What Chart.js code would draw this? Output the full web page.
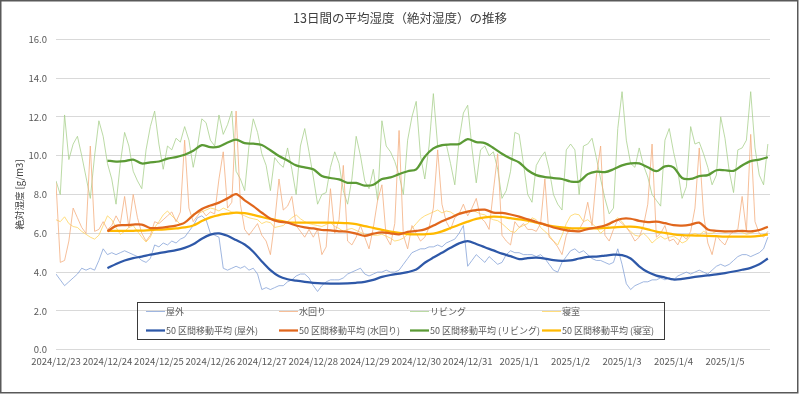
<!DOCTYPE html>
<html lang="ja">
<head>
<meta charset="utf-8">
<title>13日間の平均湿度（絶対湿度）の推移</title>
<script src="https://cdn.jsdelivr.net/npm/chart.js@4.4.1/dist/chart.umd.min.js"></script>
<style>
  html, body { margin: 0; padding: 0; background: #fff; }
  #wrap { width: 800px; height: 394px; }
</style>
</head>
<body>
<div id="wrap"><canvas id="humidity-chart" width="800" height="394"></canvas></div>
<script>
// 日付ラベル（0時ごと）
const dateLabels = ['2024/12/23', '2024/12/24', '2024/12/25', '2024/12/26', '2024/12/27', '2024/12/28', '2024/12/29',
  '2024/12/30', '2024/12/31', '2025/1/1', '2025/1/2', '2025/1/3', '2025/1/4', '2025/1/5'];

const chartTitle = '13日間の平均湿度（絶対湿度）の推移';
const seriesNames = ['屋外', '水回り', 'リビング', '寝室'];

// 生データ（2時間ごと, 0h から）
const outdoor = [3.9,3.6,3.3,3.5,3.7,3.9,4.2,4.1,4.2,4.1, 4.6,5.2,4.9,5.0,4.9,5.0,5.1,5.0,4.9,4.8,
  4.6,4.5,4.7,5.4,5.3,5.5,5.4,5.6,5.5,5.7, 5.8,6.1,6.4,6.8,6.9,6.7,6.0,5.9,5.8,4.2,
  4.1,4.2,4.3,4.2,4.3,4.1,4.2,3.9,3.1,3.2, 3.1,3.2,3.3,3.3,3.5,3.6,3.8,3.9,3.9,3.7,
  3.3,3.0,3.3,3.5,3.6,3.6,3.6,3.7,3.9,4.0, 4.1,4.2,3.9,3.8,3.9,4.0,4.0,4.1,4.0,4.0,
  4.1,4.4,4.7,5.0,5.1,5.2,5.2,5.3,5.3,5.4, 5.3,5.5,5.6,5.7,6.0,6.4,4.3,4.6,4.9,4.7,
  4.5,4.8,4.6,4.4,4.5,4.9,5.1,5.0,5.0,4.9, 4.9,4.9,4.8,4.9,4.7,4.4,4.1,4.0,4.5,4.8,
  5.1,5.2,5.0,5.1,4.9,4.7,4.6,4.6,4.5,4.4, 4.5,5.2,4.4,3.4,3.1,3.3,3.4,3.5,3.5,3.6,
  3.6,3.7,3.6,3.7,3.6,3.8,3.9,4.0,3.9,4.0, 4.1,4.0,3.9,4.1,4.3,4.4,4.3,4.4,4.6,4.8,
  4.9,4.9,4.8,4.9,5.0,5.2,5.8];
const water = [8.6,4.5,4.6,5.6,7.3,6.8,6.3,6.0,10.5,6.1, 6.2,6.6,6.2,6.4,6.9,6.5,7.9,6.3,8.0,6.8,
  6.0,5.6,5.9,6.6,6.5,6.7,6.9,7.1,6.6,7.1, 10.8,7.3,6.6,6.9,7.2,6.9,7.1,7.0,8.8,10.2,
  7.3,7.6,12.3,7.5,6.2,5.9,6.2,6.5,5.9,5.6, 4.9,6.6,8.8,7.2,7.4,7.9,6.4,6.1,5.8,6.2,
  5.8,6.2,4.9,5.3,8.3,6.0,6.7,9.5,5.6,5.4, 5.8,6.4,5.8,5.2,6.3,7.7,8.5,5.8,5.4,6.5,
  11.3,5.9,5.2,6.4,6.0,5.6,5.8,6.3,7.3,10.3, 7.5,6.6,6.2,6.8,7.0,7.5,6.9,7.3,7.8,6.8,
  6.6,6.2,8.2,10.1,5.9,5.6,5.4,6.6,6.3,6.5, 6.2,6.2,6.1,6.5,8.8,5.8,5.6,5.3,4.9,5.9,
  6.3,6.1,6.2,6.6,7.6,6.4,8.9,10.5,5.9,5.6, 6.2,6.7,6.5,6.3,6.0,5.6,5.8,6.4,7.5,10.6,
  5.8,6.0,6.4,5.6,5.7,5.4,5.9,5.7,6.1,7.3, 10.4,7.0,5.5,4.9,5.9,5.6,5.4,5.9,6.1,6.2,
  7.9,6.1,11.1,6.6,6.0,5.8,6.1];
const living = [8.7,8.0,12.1,9.8,10.6,11.0,10.0,8.9,7.8,10.0, 11.8,11.0,9.6,8.8,7.5,9.6,11.2,10.5,9.2,8.7,
  8.3,10.3,11.5,12.3,10.6,9.3,10.5,10.3,10.9,10.7, 11.5,10.8,9.4,10.5,11.9,11.7,10.8,10.5,12.1,11.1,
  11.6,12.3,9.2,8.8,8.2,10.5,11.9,11.2,10.1,9.5, 8.2,9.9,9.6,9.4,10.4,9.3,8.0,10.5,11.4,10.2,
  8.9,7.5,8.0,8.1,9.4,10.2,9.6,8.2,7.5,8.8, 11.0,10.0,8.7,8.3,9.3,7.7,11.8,10.5,10.2,9.7,
  9.0,8.0,10.8,12.0,12.8,10.0,8.8,10.5,13.2,10.5, 10.5,10.6,9.6,8.5,10.8,12.2,12.6,10.4,8.6,10.3,
  10.5,10.0,10.2,9.3,7.8,8.2,9.2,11.2,11.1,9.6, 8.0,7.6,9.5,9.9,10.2,9.3,8.0,7.5,7.2,10.3,
  10.6,10.3,8.0,10.5,10.6,10.9,9.9,8.8,7.8,7.0, 7.3,11.4,13.3,10.8,9.6,9.4,10.4,9.5,8.9,8.0,
  7.7,7.4,10.8,11.4,10.2,9.2,7.8,8.4,11.5,10.6, 10.7,10.1,9.4,8.5,9.0,12.0,10.9,9.2,8.1,10.3,
  10.4,10.8,13.3,10.4,9.0,8.5,10.6];
const bedroom = [6.7,6.6,6.85,6.5,6.35,6.3,6.1,5.95,5.8,5.7, 5.9,6.4,6.9,6.7,6.3,5.95,6.1,6.3,6.4,6.1,
  5.8,5.55,5.8,6.3,6.6,6.95,7.15,6.9,6.7,6.45, 6.5,6.8,7.0,7.05,7.1,7.2,7.3,7.25,7.15,7.3,
  7.2,7.1,7.05,7.0,6.9,6.8,6.75,6.7,6.5,6.6, 6.55,6.3,6.35,6.4,6.6,6.8,6.95,6.75,6.6,6.5,
  6.45,6.4,6.35,6.45,6.55,6.35,6.25,6.1,6.2,6.25, 6.15,6.05,5.95,5.9,5.9,5.9,5.95,5.85,5.75,5.6,
  5.65,5.75,5.95,6.25,6.5,6.75,6.9,7.0,7.1,7.2, 7.05,7.15,7.1,6.95,7.05,7.1,7.15,7.2,7.1,7.0,
  6.95,6.8,6.7,6.65,6.5,6.3,6.1,6.05,6.3,6.4, 6.5,6.8,6.7,6.3,6.1,5.9,5.6,5.4,5.9,6.5,
  6.9,7.0,6.95,6.6,6.7,6.5,6.3,6.0,6.2,6.4, 6.6,6.8,6.6,6.3,6.1,5.9,5.85,6.0,5.8,5.5,
  5.7,5.85,5.7,5.8,5.85,5.7,5.5,5.6,5.9,6.0, 5.9,6.1,6.0,6.0,6.1,6.1,6.05,6.1,6.1,6.1,
  6.05,5.95,6.0,6.1,6.15,6.2,6.3];

// 50 区間移動平均（4時間ごと, 24h から）
const outdoorMA = [4.2,4.42,4.6,4.72,4.8,4.9,4.98,5.06,5.13,5.25, 5.43,5.72,5.93,6.0,5.87,5.65,5.42,5.05,4.55,4.1,
  3.78,3.63,3.56,3.5,3.45,3.42,3.41,3.41,3.42,3.45, 3.5,3.6,3.75,3.85,3.92,4.0,4.13,4.48,4.75,5.0,
  5.25,5.48,5.6,5.45,5.28,5.12,4.95,4.82,4.67,4.72, 4.74,4.7,4.62,4.58,4.6,4.7,4.78,4.8,4.85,4.9,
  4.88,4.7,4.3,4.0,3.82,3.72,3.62,3.65,3.72,3.78, 3.83,3.88,3.95,4.03,4.12,4.22,4.4,4.7];
const waterMA = [6.1,6.38,6.42,6.45,6.45,6.27,6.28,6.33,6.4,6.55, 6.93,7.25,7.43,7.58,7.8,8.02,7.7,7.4,7.06,6.75,
  6.6,6.55,6.4,6.3,6.25,6.17,6.15,6.1,6.08,5.98, 5.87,5.98,6.05,6.0,5.95,6.07,6.12,6.2,6.4,6.62,
  6.8,7.0,7.12,7.2,7.22,7.07,7.05,6.97,6.86,6.72, 6.58,6.45,6.3,6.2,6.12,6.1,6.22,6.3,6.4,6.6,
  6.75,6.75,6.64,6.58,6.6,6.52,6.42,6.4,6.45,6.55, 6.2,6.13,6.1,6.1,6.12,6.1,6.17,6.34];
const livingMA = [9.75,9.7,9.72,9.8,9.6,9.66,9.7,9.85,9.93,10.05, 10.25,10.54,10.44,10.47,10.68,10.83,10.65,10.62,10.55,10.28,
  9.98,9.75,9.5,9.4,9.3,8.95,8.85,8.78,8.6,8.6, 8.46,8.5,8.8,8.88,9.05,9.2,9.3,9.95,10.38,10.55,
  10.58,10.6,10.85,10.7,10.65,10.4,10.1,9.85,9.65,9.25, 9.0,8.9,8.85,8.8,8.67,8.67,9.05,9.18,9.15,9.3,
  9.5,9.6,9.6,9.4,9.2,9.45,9.4,8.85,8.8,8.95, 9.0,9.25,9.25,9.22,9.5,9.72,9.8,9.92];
const bedroomMA = [6.12,6.12,6.12,6.13,6.14,6.17,6.19,6.21,6.25,6.3, 6.4,6.63,6.82,6.94,7.01,7.07,7.04,6.95,6.84,6.74,
  6.66,6.57,6.55,6.55,6.55,6.55,6.55,6.54,6.52,6.47, 6.37,6.28,6.18,6.09,6.02,5.96,5.95,5.95,5.98,6.1,
  6.27,6.44,6.6,6.74,6.82,6.86,6.84,6.78,6.72,6.65, 6.55,6.45,6.36,6.3,6.26,6.26,6.26,6.26,6.28,6.3,
  6.33,6.34,6.3,6.2,6.09,6.02,5.95,5.91,5.89,5.88, 5.87,5.85,5.83,5.83,5.83,5.83,5.87,5.95];

const FONT = '"Noto Sans CJK JP", "Noto Sans", sans-serif';
const rawColors = ['#86A3D8', '#F4AE80', '#A9D18E', '#FFD45E'];
const maColors = ['#2E58A8', '#E0661C', '#5B9A35', '#FFB900'];

// 時間 → 点
function toPoints(values, startHour, stepHour) {
    return values.map((v, i) => ({ x: startHour + i * stepHour, y: v }));
}

const rawSeries = [outdoor, water, living, bedroom];
const maSeries = [outdoorMA, waterMA, livingMA, bedroomMA];

const datasets = [];
rawSeries.forEach((vals, i) => {
    datasets.push({
        label: seriesNames[i],
        data: toPoints(vals, 0, 2),
        borderColor: rawColors[i],
        borderWidth: 0.8,
        pointRadius: 0,
        tension: 0,
        order: 2
    });
});
maSeries.forEach((vals, i) => {
    datasets.push({
        label: '50 区間移動平均 (' + seriesNames[i] + ')',
        data: toPoints(vals, 24, 4),
        borderColor: maColors[i],
        borderWidth: 2.25,
        pointRadius: 0,
        tension: 0.3,
        order: 1
    });
});

// タイトル・凡例（枠付き, プロット内）・外枠
const decorations = {
    id: 'decorations',
    afterDraw(chart) {
        const ctx = chart.ctx;
        ctx.save();
        // タイトル（キャンバス中央）
        ctx.font = '12.5px ' + FONT;
        ctx.fillStyle = '#404040';
        ctx.textAlign = 'center';
        ctx.textBaseline = 'middle';
        ctx.fillText(chartTitle, 400, 18.5);

        // 凡例
        const cols = [146, 279, 410, 542];
        const rows = [311.5, 330.5];
        ctx.textAlign = 'left';
        ctx.strokeStyle = '#3a3a3a';
        ctx.lineWidth = 1;
        ctx.strokeRect(137.5, 302.5, 527, 37);
        ctx.font = '9px ' + FONT;
        ctx.fillStyle = '#595959';
        chart.data.datasets.forEach((ds, i) => {
            const x = cols[i % 4];
            const y = rows[Math.floor(i / 4)];
            ctx.strokeStyle = ds.borderColor;
            ctx.lineWidth = ds.borderWidth;
            ctx.beginPath();
            ctx.moveTo(x, y);
            ctx.lineTo(x + 19, y);
            ctx.stroke();
            ctx.fillText(ds.label, x + 20, y);
        });

        // 外枠
        ctx.strokeStyle = '#595959';
        ctx.lineWidth = 1.5;
        ctx.strokeRect(0.75, 0.75, 797, 392);
        ctx.restore();
    }
};

const config = {
    type: 'line',
    data: { datasets: datasets },
    options: {
        responsive: false,
        animation: false,
        layout: { padding: { left: 0, right: 30, top: 39.3, bottom: 0 } },
        plugins: {
            legend: { display: false },
            tooltip: { enabled: false },
            title: { display: false }
        },
        scales: {
            x: {
                type: 'linear',
                min: 0,
                max: 333,
                grid: { display: false, drawTicks: false },
                border: { display: false },
                ticks: {
                    stepSize: 24,
                    includeBounds: false,
                    autoSkip: false,
                    maxRotation: 0,
                    padding: 5.5,
                    color: '#595959',
                    font: { family: FONT, size: 9.5 },
                    callback: (v) => (v % 24 === 0 ? dateLabels[v / 24] : '')
                },
                afterFit: (scale) => { scale.height = 44.3; }
            },
            y: {
                min: 0,
                max: 16,
                grid: { color: '#d9d9d9', drawTicks: false },
                border: { display: false },
                ticks: {
                    stepSize: 2,
                    padding: 9,
                    color: '#595959',
                    font: { family: FONT, size: 9.5 },
                    callback: (v) => v.toFixed(1)
                },
                title: {
                    display: true,
                    text: '絶対湿度 [g/m3]',
                    color: '#404040',
                    font: { family: FONT, size: 9.5 },
                    padding: { top: 14, bottom: 0 }
                },
                afterFit: (scale) => { scale.width = 56; }
            }
        }
    },
    plugins: [decorations]
};

window.onload = function () {
    const ctx = document.getElementById('humidity-chart').getContext('2d');
    new Chart(ctx, config);
};
</script>
</body>
</html>
